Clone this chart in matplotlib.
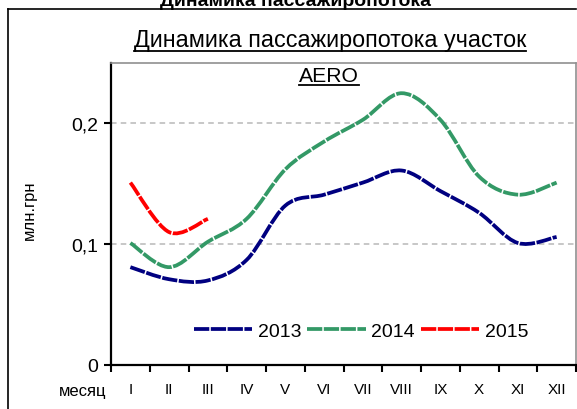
import matplotlib
matplotlib.use("Agg")
import matplotlib.pyplot as plt
from matplotlib.path import Path
from matplotlib.patches import PathPatch
from matplotlib.lines import Line2D

plt.rcParams['font.family'] = ['Liberation Sans', 'DejaVu Sans']
plt.rcParams['lines.scale_dashes'] = False

months = ['I', 'II', 'III', 'IV', 'V', 'VI', 'VII', 'VIII', 'IX', 'X', 'XI', 'XII']
v2013 = [0.081, 0.071, 0.070, 0.087, 0.132, 0.141, 0.151, 0.161, 0.144, 0.126, 0.101, 0.106]
v2014 = [0.101, 0.081, 0.102, 0.121, 0.162, 0.185, 0.203, 0.225, 0.203, 0.156, 0.141, 0.151]
v2015 = [0.151, 0.110, 0.121]
years = ['2013', '2014', '2015']
colors = ['#000080', '#339966', '#FF0000']

W, H = 577, 410
fig = plt.figure(figsize=(W / 100, H / 100), dpi=100)
ax = fig.add_axes([111 / W, 1 - 366 / H, 465 / W, 302 / H])


def smooth_path(xs, ys):
    pts = list(zip(xs, ys))
    n = len(pts)
    verts = [pts[0]]
    codes = [Path.MOVETO]
    for i in range(n - 1):
        p0 = pts[i - 1] if i > 0 else pts[i]
        p1 = pts[i]
        p2 = pts[i + 1]
        p3 = pts[i + 2] if i + 2 < n else pts[i + 1]
        c1 = (p1[0] + (p2[0] - p0[0]) / 6, p1[1] + (p2[1] - p0[1]) / 6)
        c2 = (p2[0] - (p3[0] - p1[0]) / 6, p2[1] - (p3[1] - p1[1]) / 6)
        verts += [c1, c2, p2]
        codes += [Path.CURVE4] * 3
    return Path(verts, codes)


dash = (0, (11, 1.1))
lw = 2.7
handles = []
for vals, col, yr in zip([v2013, v2014, v2015], colors, years):
    xs = [i + 0.5 for i in range(len(vals))]
    patch = PathPatch(smooth_path(xs, vals), facecolor='none', edgecolor=col,
                      lw=lw, linestyle=dash, capstyle='butt', zorder=3)
    ax.add_patch(patch)
    handles.append(Line2D([], [], color=col, lw=lw, linestyle=dash, label=yr))

ax.set_xlim(0, 12)
ax.set_ylim(0, 0.25)
ax.set_yticks([0, 0.1, 0.2])
ax.set_yticklabels(['0', '0,1', '0,2'], fontsize=14)
ax.set_xticks(range(13))
ax.set_xticklabels([])
ax.set_xticks([i + 0.5 for i in range(12)], minor=True)
ax.set_xticklabels(months, minor=True, fontsize=11)
ax.tick_params(axis='x', which='major', direction='out', length=5, width=1.5)
ax.tick_params(axis='x', which='minor', length=0, pad=12)
ax.tick_params(axis='y', direction='out', length=5, width=1.5, pad=4)
for y in [0.1, 0.2]:
    ax.axhline(y, color='#b8b8b8', lw=1.1, linestyle=(0, (4, 3)), zorder=1)

for s in ['left', 'bottom']:
    ax.spines[s].set_linewidth(1.6)
    ax.spines[s].set_color('black')
for s in ['top', 'right']:
    ax.spines[s].set_linewidth(1.2)
    ax.spines[s].set_color('#909090')

leg = ax.legend(handles=handles, ncol=3, loc='center', bbox_to_anchor=(0.538, 0.113),
                frameon=False, fontsize=14, handlelength=3.0, handletextpad=0.3,
                columnspacing=0.3, borderpad=0)

ax.set_ylabel('млн.грн', fontsize=12)
ax.yaxis.set_label_coords((37 - 111) / 465, (366 - 210) / 302)

fig.text(106 / W, 1 - 392 / H, 'месяц', ha='right', va='center', fontsize=12)

# outer frame
fig.add_artist(Line2D([8 / W, 576 / W], [1 - 10 / H, 1 - 10 / H], color='black', lw=1.2,
                      transform=fig.transFigure))
fig.add_artist(Line2D([8 / W, 8 / W], [1 - 10 / H, 0], color='black', lw=1.2,
                      transform=fig.transFigure))

# cut-off bold heading at top (cut off in the reference too)
fig.text(295 / W, 1 - 6 / H, 'Динамика пассажиропотока', ha='center', va='baseline',
         fontsize=14, fontweight='bold')

t1 = fig.text(330 / W, 1 - 47 / H, 'Динамика пассажиропотока участок', ha='center',
              va='baseline', fontsize=14)
t2 = fig.text(329 / W, 1 - 82 / H, 'AERO', ha='center', va='baseline', fontsize=14)

fig.canvas.draw()
r = fig.canvas.get_renderer()
for t, target in [(t1, 396), (t2, 60)]:
    bb = t.get_window_extent(r)
    t.set_fontsize(t.get_fontsize() * target / bb.width)
fig.canvas.draw()
for t, uy in [(t1, 52), (t2, 86)]:
    bb = t.get_window_extent(r)
    fig.add_artist(Line2D([bb.x0 / W, bb.x1 / W], [1 - uy / H, 1 - uy / H], color='black',
                          lw=1.3, transform=fig.transFigure))

fig.savefig('out.png', dpi=100)
